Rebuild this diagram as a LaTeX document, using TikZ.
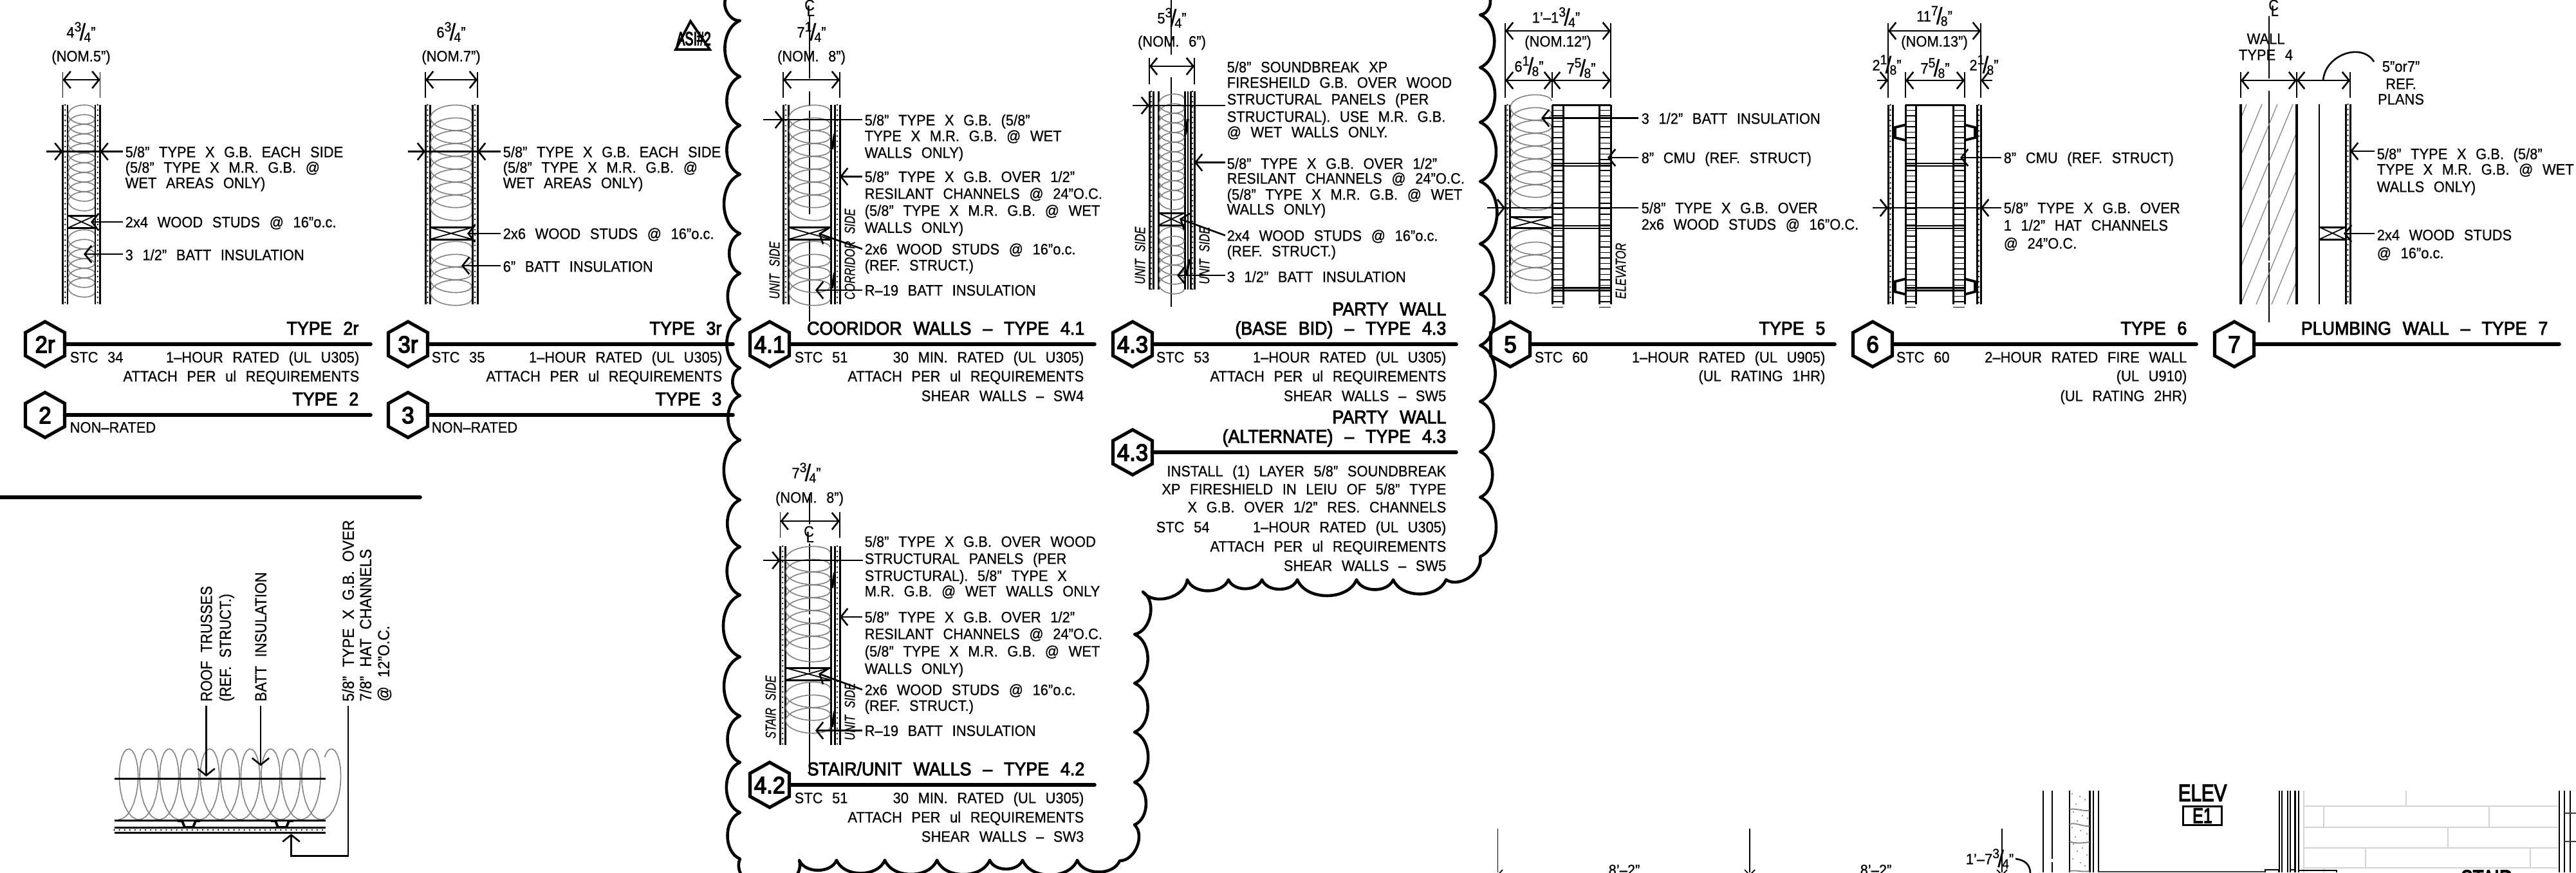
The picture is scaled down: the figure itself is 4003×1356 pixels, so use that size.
\documentclass[tikz,border=0pt]{standalone}
\usepackage{fontspec}
\usetikzlibrary{arrows.meta}
\setmainfont{Liberation Sans}
\newfontfamily\cad[FakeStretch=0.93,WordSpace=2.4,FakeBold=0.6]{Liberation Sans}
\newfontfamily\cadb[FakeStretch=0.93,WordSpace=2.4,FakeBold=3]{Liberation Sans}
\newfontfamily\cadh[FakeStretch=0.95,WordSpace=2.4,FakeBold=4]{Liberation Sans}
\newfontfamily\cadw[FakeStretch=0.92,WordSpace=2.2,FakeBold=0.5]{Liberation Sans}
\definecolor{battgray}{HTML}{808080}
\definecolor{brickgray}{HTML}{D4D4D4}
\newcounter{nn}
\tikzset{
  lb/.style={inner sep=0pt,text height=4.8pt,text depth=0pt,font=\cad\fontsize{6.7}{7}\selectfont},
  tt/.style={inner sep=0pt,text height=5.8pt,text depth=0pt,anchor=east,font=\cadb\fontsize{8.2}{9}\selectfont},
  hexlab/.style={inner sep=0pt,text height=7.4pt,text depth=0pt,font=\cadh\fontsize{10.4}{11}\selectfont},
  rt/.style={inner sep=0pt,text height=5pt,text depth=0pt,anchor=west,rotate=90,font=\cadw\fontsize{7.1}{8}\selectfont},
  sd/.style={inner sep=0pt,text height=4.7pt,text depth=0pt,rotate=90,font=\cad\itshape\fontsize{6.4}{7}\selectfont},
  ld/.style={line width=.75pt},
  hvy/.style={line width=1.6pt,line cap=round},
  hexst/.style={line width=1.45pt,line join=miter},
  cloudst/.style={line width=1.3pt,line join=round},
  gbl/.style={line width=.85pt},
  dotl/.style={line width=.75pt,line cap=round,dash pattern=on 0pt off 2.3pt},
  battst/.style={line width=.45pt,color=battgray},
  hatchst/.style={line width=.35pt,color=battgray},
  cl/.style={line width=.45pt},
  ext/.style={line width=.5pt},
  >={Straight Barb[length=3pt,width=7.5pt]}
}
\def\TL(#1,#2)#3{\stepcounter{nn}\node[lb,anchor=west] (n\thenn) at (#1,#2) {#3};}
\def\TR(#1,#2)#3{\stepcounter{nn}\node[lb,anchor=east] (n\thenn) at (#1,#2) {#3};}
\def\TC(#1,#2)#3{\stepcounter{nn}\node[lb] (n\thenn) at (#1,#2) {#3};}
\def\TT(#1,#2)#3{\stepcounter{nn}\node[tt] (n\thenn) at (#1,#2) {#3};}
\newcommand\dfr[3]{#1\raisebox{2.7pt}{\fontsize{6}{6}\selectfont #2}\kern-.8pt\raisebox{-1.2pt}{\fontsize{10.5}{10}\selectfont /}\kern-.8pt\raisebox{-1.9pt}{\fontsize{6}{6}\selectfont #3}”}
\newcommand\clsym[2]{\stepcounter{nn}\node[lb] (n\thenn) at (#1,#2) {\rlap{\raisebox{1.5pt}{C}}\kern1pt\raisebox{-1pt}{L}};}
\newcommand\tagrow[4]{%
  \draw[hexst] (#1,#2-35)--(#1+30.5,#2-18)--(#1+30.5,#2+18)--(#1,#2+35)--(#1-30.5,#2+18)--(#1-30.5,#2-18)--cycle;
  \stepcounter{nn}\node[hexlab] (n\thenn) at (#1,#2) {#3};
  \draw[hvy] (#1+30.5,#2)--(#4,#2);}
\newcommand\gb[4]{\draw[gbl] (#1,#3)--(#1,#4) (#2,#3)--(#2,#4);
  \draw[dotl] ({(#1+#2)/2},#3)--({(#1+#2)/2},#4);}
% batt insulation as a looping curve: L R y1 y2 period
\newcommand\batt[5]{%
  \pgfmathtruncatemacro\bn{max(1,floor((#4-#3)/#5-.9))}%
  \pgfmathsetmacro\bmax{360*\bn}%
  \pgfmathtruncatemacro\bs{24*\bn+1}%
  \draw[battst] plot[variable=\t,domain=0:\bmax,samples=\bs]
    ({(#1+#2)/2+(#2-#1)/2*cos(\t)},{#3+.5*#5+\t/360*#5-.72*#5*sin(\t)});}
\newcommand\stud[4]{\draw[gbl] (#1,#3)--(#2,#3) (#1,#4)--(#2,#4);
  \draw[ext] (#1,#3)--(#1,#4) (#2,#3)--(#2,#4) (#1,#3)--(#2,#4) (#2,#3)--(#1,#4);}
\newcommand\dimh[3]{\draw[ld,<->] (#1,#3)--(#2,#3);}
\newcommand\tick[2]{\draw[line width=1.1pt] (#1+2,#2-12)--(#1-2,#2+12);}
\newcommand\cmu[4]{%
  \draw[gbl] (#1,163)--(#4,163);
  \draw[gbl] (#1,163)--(#1,473) (#2,163)--(#2,473) (#3,163)--(#3,473) (#4,163)--(#4,473);
  \foreach \r in {0,...,36}{\draw[ext] (#1,171.5+8.5*\r)--(#2,171.5+8.5*\r) (#3,171.5+8.5*\r)--(#4,171.5+8.5*\r);}
  \foreach \j in {256,353,449.5}{\draw[ld] (#1,\j-2)--(#4,\j-2) (#1,\j+2)--(#4,\j+2);}}
\begin{document}
\begin{tikzpicture}[x=0.01cm,y=-0.01cm]
\useasboundingbox (0,0) rectangle (4003,1356);
\clip (0,0) rectangle (4003,1356);
% ---------- revision cloud
\draw[cloudst,every to/.style={bend right=68}]
 (1130,-6) to (1150,32) to (1150,119) to (1150,195) to (1150,271) to (1150,363) to (1150,425) to (1150,496)
 to (1150,572) to (1150,615) to (1150,684) to (1150,777) to (1150,850) to (1150,925) to (1150,1021)
 to (1150,1113) to (1150,1185) to (1150,1263) to (1150,1335) to (1190,1380) to (1242,1337) to (1300,1337)
 to (1375,1337) to (1456,1337) to (1538,1337) to (1589,1337) to (1674,1337) to (1740,1338) to (1763,1282)
 to (1763,1216) to (1763,1138) to (1763,1062) to (1763,986) to (1776,920) to (1845,901) to (1909,901)
 to (1961,901) to (2016,901) to (2108,901) to (2165,901) to (2247,901) to (2300,865) to (2300,773)
 to (2300,702) to (2300,624) to (2300,537) to (2300,457) to (2300,379) to (2300,282) to (2300,190)
 to (2300,105) to (2300,23) to (2312,-8);
% ---------- TYPE 2r
\TC(126,50){\dfr{4}{3}{4}}
\TC(126,87){(NOM.5”)}
\draw[ext] (97.5,112)--(97.5,152) (155.5,112)--(155.5,152);
\dimh{97.5}{155.5}{124}
\gb{97.5}{105}{163}{473}\gb{148}{155.5}{163}{473}
\batt{106}{147}{163}{332}{15}\batt{106}{147}{357}{473}{15}
\stud{105}{148}{335}{354.5}
\draw[ld] (97.5,235.5)--(155.5,235.5);
\draw[ld,->] (72,235.5)--(97.5,235.5);
\draw[ld,->] (191,235.5)--(155.5,235.5);
\draw[ld,->] (191,345)--(141,345);
\draw[ld,->] (191,395)--(130,395);
\TL(194,236){5/8” TYPE X G.B. EACH SIDE}
\TL(194,260){(5/8” TYPE X M.R. G.B. @}
\TL(194,284){WET AREAS ONLY)}
\TL(194,345){2x4 WOOD STUDS @ 16”o.c.}
\TL(194,396){3 1/2” BATT INSULATION}
\tagrow{70}{535}{2r}{576}
\TT(558,510){TYPE 2r}
\TL(108,555){STC 34}
\TR(559,555){1–HOUR RATED (UL U305)}
\TR(559,584.5){ATTACH PER ul REQUIREMENTS}
\tagrow{70}{645}{2}{576}
\TT(558,620){TYPE 2}
\TL(108,664){NON–RATED}
% ---------- TYPE 3r
\TC(701,50){\dfr{6}{3}{4}}
\TC(701,87){(NOM.7”)}
\draw[ext] (661,112)--(661,152) (742,112)--(742,152);
\dimh{661}{742}{124}
\gb{661}{668}{163}{473}\gb{734}{742}{163}{473}
\batt{669}{733}{163}{350}{20}\batt{669}{733}{375}{473}{20}
\stud{668}{734}{353.5}{372}
\draw[ld] (661,235.5)--(742,235.5);
\draw[ld,->] (634,235.5)--(661,235.5);
\draw[ld,->] (778,235.5)--(742,235.5);
\draw[ld,->] (778,363)--(726,363);
\draw[ld,->] (778,413)--(717,413);
\TL(781,236){5/8” TYPE X G.B. EACH SIDE}
\TL(781,260){(5/8” TYPE X M.R. G.B. @}
\TL(781,284){WET AREAS ONLY)}
\TL(781,363){2x6 WOOD STUDS @ 16”o.c.}
\TL(781,414){6” BATT INSULATION}
\tagrow{634}{535}{3r}{1139}
\TT(1122,510){TYPE 3r}
\TL(670,555){STC 35}
\TR(1123,555){1–HOUR RATED (UL U305)}
\TR(1123,584.5){ATTACH PER ul REQUIREMENTS}
\tagrow{634}{645}{3}{1139}
\TT(1122,620){TYPE 3}
\TL(670,664){NON–RATED}
% revision triangle
\draw[line width=1.1pt,line join=miter] (1073,33)--(1103,77)--(1050,77)--cycle;
\stepcounter{nn}\node[tt,anchor=center,font=\cadh\fontsize{8.4}{9}\selectfont] (n\thenn) at (1078,60) {\scalebox{.7}[1]{ASI\#2}};
% ---------- TYPE 4.1
\clsym{1258}{13}
\draw[cl] (1258,24)--(1258,122) (1258,142)--(1258,165) (1258,172)--(1258,333) (1258,374)--(1258,500);
\TC(1261,50){\dfr{7}{1}{4}}
\TC(1261,87){(NOM. 8”)}
\draw[ext] (1217,112)--(1217,152) (1305,112)--(1305,152);
\dimh{1217}{1305}{124}
\gb{1217}{1225}{163}{473}\gb{1297}{1305}{163}{473}
\draw[gbl] (1291,163)--(1291,473);
\batt{1226}{1290}{163}{350}{20}\batt{1226}{1290}{375}{473}{20}
\stud{1225}{1291}{353.5}{372}
\tick{1295}{220}\tick{1295}{436}
\draw[ld,->] (1186,186)--(1217,186);
\draw[ld] (1217,186)--(1340,186);
\draw[ld,->] (1340,274.5)--(1305,274.5);
\draw[ld,->] (1340,387)--(1272,363);
\draw[ld,->] (1340,451)--(1267,451);
\TL(1343,186.5){5/8” TYPE X G.B. (5/8”}
\TL(1343,211){TYPE X M.R. G.B. @ WET}
\TL(1343,237){WALLS ONLY)}
\TL(1343,274.5){5/8” TYPE X G.B. OVER 1/2”}
\TL(1343,300.7){RESILANT CHANNELS @ 24”O.C.}
\TL(1343,327){(5/8” TYPE X M.R. G.B. @ WET}
\TL(1343,353.5){WALLS ONLY)}
\TL(1343,387){2x6 WOOD STUDS @ 16”o.c.}
\TL(1343,412){(REF. STRUCT.)}
\TL(1343,451){R–19 BATT INSULATION}
\stepcounter{nn}\node[sd] (n\thenn) at (1203,420) {\scalebox{.8}[1]{UNIT SIDE}};
\stepcounter{nn}\node[sd] (n\thenn) at (1320,395) {\scalebox{.8}[1]{CORRIDOR SIDE}};
\tagrow{1196}{535}{4.1}{1701}
\TT(1686,510){COORIDOR WALLS – TYPE 4.1}
\TL(1234,555){STC 51}
\TR(1685,555){30 MIN. RATED (UL U305)}
\TR(1685,584.5){ATTACH PER ul REQUIREMENTS}
\TR(1685,615){SHEAR WALLS – SW4}
% ---------- TYPE 4.3 base bid
\draw[cl] (1820,0)--(1820,85) (1820,120)--(1820,477);
\TC(1821,28){\dfr{5}{3}{4}}
\TC(1821,64){(NOM. 6”)}
\draw[ext] (1786,90)--(1786,131) (1856,90)--(1856,131);
\dimh{1786}{1856}{103}
\gb{1786}{1792}{142}{450}\gb{1850}{1856}{142}{450}
\draw[gbl] (1800,142)--(1800,450) (1841,142)--(1841,450) ;
\draw[ext] (1846,142)--(1846,450);
\batt{1801}{1840}{146}{328}{15}\batt{1801}{1840}{352}{456}{15}
\stud{1800}{1841}{331}{350}
\tick{1844}{197}\tick{1846}{415}
\draw[ld,->] (1760,164)--(1786,164);
\draw[ld] (1786,164)--(1904,164);
\draw[ld,->] (1904,252.5)--(1856,252.5);
\draw[ld,->] (1904,366)--(1833,340);
\draw[ld,->] (1904,428)--(1829,428);
\TL(1906,104){5/8” SOUNDBREAK XP}
\TL(1906,128){FIRESHEILD G.B. OVER WOOD}
\TL(1906,154){STRUCTURAL PANELS (PER}
\TL(1906,181){STRUCTURAL). USE M.R. G.B.}
\TL(1906,205){@ WET WALLS ONLY.}
\TL(1906,254){5/8” TYPE X G.B. OVER 1/2”}
\TL(1906,277){RESILANT CHANNELS @ 24”O.C.}
\TL(1906,302){(5/8” TYPE X M.R. G.B. @ WET}
\TL(1906,325){WALLS ONLY)}
\TL(1906,366){2x4 WOOD STUDS @ 16”o.c.}
\TL(1906,390){(REF. STRUCT.)}
\TL(1906,430){3 1/2” BATT INSULATION}
\stepcounter{nn}\node[sd] (n\thenn) at (1771,397) {\scalebox{.8}[1]{UNIT SIDE}};
\stepcounter{nn}\node[sd] (n\thenn) at (1871,397) {\scalebox{.8}[1]{UNIT SIDE}};
\tagrow{1760}{535}{4.3}{2263}
\TT(2248,480){PARTY WALL}
\TT(2248,510){(BASE BID) – TYPE 4.3}
\TL(1796,555){STC 53}
\TR(2248,555){1–HOUR RATED (UL U305)}
\TR(2248,584.5){ATTACH PER ul REQUIREMENTS}
\TR(2248,615){SHEAR WALLS – SW5}
% ---------- TYPE 4.3 alternate
\TT(2248,648){PARTY WALL}
\TT(2248,678){(ALTERNATE) – TYPE 4.3}
\tagrow{1760}{703}{4.3}{2263}
\TR(2248,732){INSTALL (1) LAYER 5/8” SOUNDBREAK}
\TR(2248,760){XP FIRESHIELD IN LEIU OF 5/8” TYPE}
\TR(2248,788){X G.B. OVER 1/2” RES. CHANNELS}
\TL(1796,819){STC 54}
\TR(2248,819){1–HOUR RATED (UL U305)}
\TR(2248,849){ATTACH PER ul REQUIREMENTS}
\TR(2248,879){SHEAR WALLS – SW5}
% ---------- TYPE 4.2
\TC(1253,735){\dfr{7}{3}{4}}
\TC(1258,773){(NOM. 8”)}
\draw[ext] (1212.5,796)--(1212.5,836) (1305,796)--(1305,836);
\dimh{1212.5}{1305}{810}
\clsym{1257}{831}
\draw[cl] (1258,768)--(1258,815) (1258,845)--(1258,955) (1258,960)--(1258,1045) (1258,1060)--(1258,1200);
\gb{1212.5}{1220}{849}{1157.5}\gb{1297}{1305}{849}{1157.5}
\draw[gbl] (1291,849)--(1291,1157.5);
\batt{1221}{1290}{849}{1035}{20}\batt{1221}{1290}{1060}{1157.5}{20}
\stud{1220}{1291}{1038}{1057}
\tick{1295}{902}\tick{1295}{1118}
\draw[ld,->] (1186,871)--(1212.5,871);
\draw[ld] (1212.5,871)--(1341,871);
\draw[ld,->] (1340,959)--(1305,959);
\draw[ld,->] (1340,1072)--(1272,1047);
\draw[ld,->] (1340,1135.5)--(1267,1135.5);
\TL(1343,841.6){5/8” TYPE X G.B. OVER WOOD}
\TL(1343,868){STRUCTURAL PANELS (PER}
\TL(1343,894.6){STRUCTURAL). 5/8” TYPE X}
\TL(1343,918.6){M.R. G.B. @ WET WALLS ONLY}
\TL(1343,959){5/8” TYPE X G.B. OVER 1/2”}
\TL(1343,985){RESILANT CHANNELS @ 24”O.C.}
\TL(1343,1012){(5/8” TYPE X M.R. G.B. @ WET}
\TL(1343,1039){WALLS ONLY)}
\TL(1343,1072){2x6 WOOD STUDS @ 16”o.c.}
\TL(1343,1096.5){(REF. STRUCT.)}
\TL(1343,1135.5){R–19 BATT INSULATION}
\stepcounter{nn}\node[sd] (n\thenn) at (1197,1099) {\scalebox{.8}[1]{STAIR SIDE}};
\stepcounter{nn}\node[sd] (n\thenn) at (1320,1106) {\scalebox{.8}[1]{UNIT SIDE}};
\tagrow{1196}{1220}{4.2}{1701}
\TT(1686,1195){STAIR/UNIT WALLS – TYPE 4.2}
\TL(1234,1240){STC 51}
\TR(1685,1240){30 MIN. RATED (UL U305)}
\TR(1685,1270){ATTACH PER ul REQUIREMENTS}
\TR(1685,1300){SHEAR WALLS – SW3}
% ---------- TYPE 5
\TC(2418,27){\dfr{1’–1}{3}{4}}
\TC(2421,64){(NOM.12”)}
\TC(2376,103){\dfr{6}{1}{8}}
\TC(2457,106){\dfr{7}{5}{8}}
\draw[ext] (2339,36)--(2339,152) (2503,36)--(2503,152) (2412,112)--(2412,152);
\dimh{2339}{2503}{48}
\dimh{2339}{2412}{125}\dimh{2412}{2503}{125}
\gb{2339}{2346}{163}{473}
\batt{2347}{2411}{147}{334}{20}\batt{2347}{2411}{356}{457}{20}
\stud{2346}{2412}{337}{354}
\cmu{2412}{2429}{2485}{2503}
\draw[ld,->] (2546,183.5)--(2395,183.5);
\draw[ld,->] (2546,245)--(2498,245);
\draw[ld,->] (2311,323)--(2339,323);
\draw[ld] (2339,323)--(2546,323);
\TL(2550,184){3 1/2” BATT INSULATION}
\TL(2550,245){8” CMU (REF. STRUCT)}
\TL(2550,323){5/8” TYPE X G.B. OVER}
\TL(2550,348.5){2x6 WOOD STUDS @ 16”O.C.}
\stepcounter{nn}\node[sd] (n\thenn) at (2518,421) {\scalebox{.8}[1]{ELEVATOR}};
\tagrow{2347}{535}{5}{2851}
\TT(2837,510){TYPE 5}
\TL(2384,555){STC 60}
\TR(2837,555){1–HOUR RATED (UL U905)}
\TR(2837,584){(UL RATING 1HR)}
% ---------- TYPE 6
\TC(3006,25){\dfr{11}{7}{8}}
\TC(3006,64){(NOM.13”)}
\TC(2932,101){\dfr{2}{1}{8}}
\TC(3007,106){\dfr{7}{5}{8}}
\TC(3083,101){\dfr{2}{1}{8}}
\draw[ext] (2934,36)--(2934,152) (3078,36)--(3078,152) (2961,112)--(2961,152) (3053,112)--(3053,152);
\dimh{2934}{3078}{48}
\dimh{2961}{3053}{125}
\draw[ld,->] (2917,125)--(2934,125);
\draw[ld,->] (3096,125)--(3078,125);
\gb{2934}{2941}{163}{473}\gb{3072}{3078}{163}{473}
\cmu{2961}{2977}{3035}{3053}
\foreach \hy in {194,433.5}{
  \draw[line width=1.1pt] (2961,\hy)--(2945,\hy+4)--(2945,\hy+20)--(2961,\hy+24);
  \draw[line width=1.1pt] (3053,\hy)--(3069,\hy+4)--(3069,\hy+20)--(3053,\hy+24);}
\draw[ld,->] (3110,245)--(3046,245);
\draw[ld,->] (2910,323)--(2934,323);
\draw[ld] (2934,323)--(3078,323);
\draw[ld,->] (3110,323)--(3078,323);
\TL(3113,245){8” CMU (REF. STRUCT)}
\TL(3113,323){5/8” TYPE X G.B. OVER}
\TL(3113,350){1 1/2” HAT CHANNELS}
\TL(3113,378){@ 24”O.C.}
\tagrow{2910}{535}{6}{3413}
\TT(3399,510){TYPE 6}
\TL(2946,555){STC 60}
\TR(3399,555){2–HOUR RATED FIRE WALL}
\TR(3399,584){(UL U910)}
\TR(3399,615){(UL RATING 2HR)}
% ---------- TYPE 7
\clsym{3533}{13}
\draw[cl] (3526,25)--(3526,122) (3526,141)--(3526,405) (3526,408)--(3526,501);
\TC(3521,60){WALL}
\TC(3521,85){TYPE 4}
\draw[ext] (3482,112)--(3482,152) (3569,112)--(3569,152) (3652,112)--(3652,152);
\dimh{3482}{3569}{125}\dimh{3569}{3652}{125}
\draw[ld] (3610,125) .. controls (3613,85) and (3670,65) .. (3689,96);
\TC(3731,103){5”or7”}
\TC(3731,130){REF.}
\TC(3731,154){PLANS}
\begin{scope}
\clip (3482,162) rectangle (3569,473);
\foreach \k in {-6,...,4}{\draw[hatchst] (3482+24*\k,473)--(3611+24*\k,162);}
\end{scope}
\draw[line width=1.3pt] (3482,162)--(3482,473) (3569,162)--(3569,473);
\draw[ld] (3604,162)--(3604,473);
\gb{3645}{3652}{162}{473}
\stud{3604}{3645}{353}{372}
\draw[ld,->] (3690,235)--(3652,235);
\draw[ld,->] (3690,363)--(3642,363);
\TL(3693,239){5/8” TYPE X G.B. (5/8”}
\TL(3693,263){TYPE X M.R. G.B. @ WET}
\TL(3693,290){WALLS ONLY)}
\TL(3693,365){2x4 WOOD STUDS}
\TL(3693,393){@ 16”o.c.}
\tagrow{3472}{535}{7}{3977}
\TT(3960,510){PLUMBING WALL – TYPE 7}
% ---------- roof detail
\draw[hvy] (0,773)--(653,773);
\stepcounter{nn}\node[rt] (n\thenn) at (320.5,1091) {\scalebox{.95}[1]{ROOF TRUSSES}};
\stepcounter{nn}\node[rt] (n\thenn) at (350,1091) {\scalebox{.95}[1]{(REF. STRUCT.)}};
\stepcounter{nn}\node[rt] (n\thenn) at (405,1091) {\scalebox{.97}[1]{BATT INSULATION}};
\stepcounter{nn}\node[rt] (n\thenn) at (541,1091) {5/8” TYPE X G.B. OVER};
\stepcounter{nn}\node[rt] (n\thenn) at (568,1091) {7/8” HAT CHANNELS};
\stepcounter{nn}\node[rt] (n\thenn) at (596,1091) {@ 12”O.C.};
\draw[battst] plot[variable=\t,domain=-180:3640,samples=260]
  ({200+\t/360*31.5-22*sin(\t)},{1219-55*cos(\t)});
\draw[gbl] (177.5,1210)--(506,1210) (177.5,1275)--(506,1275);
\draw[gbl] (177.5,1286)--(506,1286) (177.5,1294)--(506,1294);
\draw[dotl] (177.5,1290)--(506,1290);
\foreach \h in {0,145}{\draw[line width=1.1pt] (276+\h,1276)--(283+\h,1276)--(287+\h,1286)--(300+\h,1286)--(304+\h,1276)--(311+\h,1276);}
\draw[ld,->] (320.5,1097)--(320.5,1207);
\draw[ld,->] (405,1097)--(405,1190.5);
\draw[ld,->] (541,1097)--(541,1330.5)--(452.5,1330.5)--(452.5,1296);
% ---------- plan strip, lower right
\foreach \x in {2327.5,2719,3111}{\draw[ext] (\x,1288)--(\x,1356);}
\draw[ext] (2327.5,1360)--(2335,1352) (2719,1360)--(2711,1352) (2719,1360)--(2727,1352) (3111,1360)--(3103,1352) (3111,1360)--(3119,1352);
\TC(2524,1352){8’–2”}
\TC(2915,1352){8’–2”}
\TC(3092,1335){\dfr{1’–7}{3}{4}}
\draw[ld] (3132,1335) .. controls (3148,1337) and (3155,1345) .. (3155,1358);
\draw[ld] (3175,1229)--(3175,1356);
\draw[ld,dash pattern=on 30pt off 1.5pt] (3189,1229)--(3189,1356);
\draw[ld] (3216,1229)--(3216,1356);
\draw[gbl] (3247,1229)--(3247,1356);
\draw[ld] (3253,1229)--(3253,1356) (3261,1229)--(3261,1356);
\foreach \yy/\xx in {1234/3220,1238/3232,1243/3240,1250/3226,1262/3222,1268/3236,1272/3244,1276/3228,1286/3220,1291/3233,1296/3243,1301/3225,1312/3222,1318/3236,1323/3228,1329/3243,1335/3221,1341/3233,1346/3240}{\fill[battgray] (\xx,\yy) circle (1.2);}
\draw[battst,line width=.5pt] (3216,1258) .. controls (3226,1256) and (3236,1261) .. (3247,1260);
\draw[battst,line width=.5pt] (3216,1281) .. controls (3226,1278) and (3236,1285) .. (3247,1284);
\draw[battst,line width=.5pt] (3216,1308) .. controls (3226,1312) and (3236,1310) .. (3247,1309);
\draw[battst,line width=.5pt] (3216,1354) .. controls (3226,1352) and (3236,1356) .. (3247,1354);
\stepcounter{nn}\node[inner sep=0pt,text height=7.4pt,text depth=0pt,font=\cadh\fontsize{10.4}{11}\selectfont] (n\thenn) at (3422.5,1232) {\scalebox{.85}[1]{ELEV}};
\stepcounter{nn}\node[draw,line width=.9pt,inner sep=0pt,text height=6.4pt,text depth=0pt,minimum width=17pt,minimum height=8.4pt,font=\cadh\fontsize{9.4}{10}\selectfont] (n\thenn) at (3422.5,1268) {\scalebox{.8}[1]{E1}};
\draw[ld] \foreach \x in {3542,3546,3555,3559,3566.5,3572}{(\x,1229)--(\x,1356)};
\draw[brickgray,line width=.7pt] (3580,1253)--(3975,1253) (3580,1286)--(3975,1286) (3580,1318)--(3975,1318) (3580,1349)--(3975,1349);
\draw[brickgray,line width=.4pt] (3580,1229)--(3580,1356) (3739,1229)--(3739,1253) (3611,1253)--(3611,1286) (3868,1253)--(3868,1286) (3804,1286)--(3804,1318) (3676,1318)--(3676,1349) (3932,1318)--(3932,1349) (3611,1349)--(3611,1356);
\draw[ld] \foreach \x in {3977,3985,3994}{(\x,1229)--(\x,1356)};
\draw[battst,line width=.7pt,color=darkgray] (3985,1264)--(4003,1264) (3985,1308)--(4003,1308);
\draw[ext,color=darkgray] (3261,1355)--(3520,1355);
\draw[ext] (3520,1356)--(3520,1352)--(3541,1352)--(3541,1356) (3560,1352)--(3566,1352) (3573,1353)--(3631,1353)--(3631,1356);
\stepcounter{nn}\node[tt,anchor=center,text height=7.4pt,font=\cadh\fontsize{10.4}{11}\selectfont] (n\thenn) at (3864,1365) {\scalebox{.8}[1]{STAIR}};
\end{tikzpicture}
\end{document}
